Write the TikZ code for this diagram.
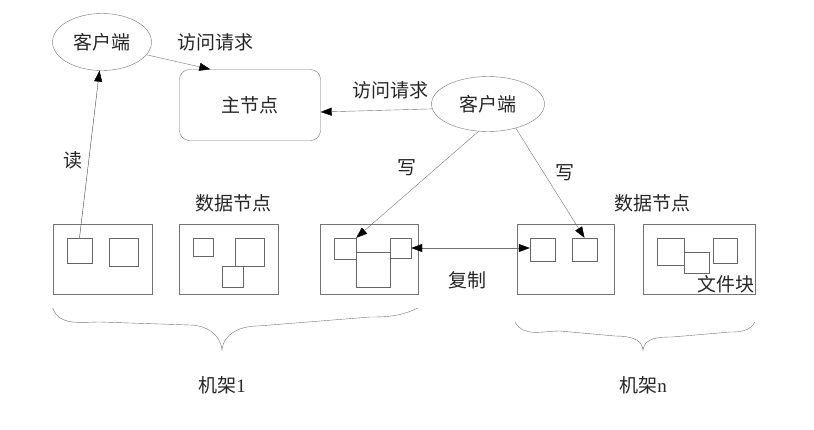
\documentclass[tikz,border=0pt]{standalone}
\usepackage{fontspec}
\newfontfamily\cjk{Noto Sans CJK SC}
\newfontfamily\lat{Liberation Serif}
\usetikzlibrary{shapes.geometric, arrows.meta, positioning}

\begin{document}
\begin{tikzpicture}[x=1pt, y=-1pt,
  client/.style={draw=black!55, ellipse, inner sep=0pt},
  dnbox/.style={draw=black!55, minimum height=70pt, inner sep=0pt},
  blk/.style={draw=black!60, inner sep=0pt},
  lbl/.style={font=\fontsize{19}{22}\selectfont\cjk, text=black!85},
  arrow/.style={draw=black!55, -{Triangle[length=11pt, width=8pt, color=black]}},
  font=\fontsize{19}{22}\selectfont\cjk
]
  \useasboundingbox (0,0) rectangle (814,429);

  % Clients and master
  \node[client, minimum width=99pt, minimum height=57pt, text=black!85] (cli1) at (102,42) {客户端};
  \node[draw=black!55, rounded corners=10pt, minimum width=141pt, minimum height=71pt, text=black!85] (master) at (250,105) {主节点};
  \node[client, minimum width=113pt, minimum height=55pt, text=black!85] (cli2) at (488,104) {客户端};

  % Data nodes, rack 1
  \node[dnbox, minimum width=99pt] (dn1) at (102.5,259) {};
  \node[dnbox, minimum width=99pt] (dn2) at (228.5,259) {};
  \node[dnbox, minimum width=98pt] (dn3) at (369,259) {};
  % Data nodes, rack n
  \node[dnbox, minimum width=97pt] (dn4) at (565.5,259) {};
  \node[dnbox, minimum width=112pt] (dn5) at (699,259) {};

  % File blocks
  \node[blk, minimum width=25pt, minimum height=25pt] (b11) at (79.5,250.5) {};
  \node[blk, minimum width=29pt, minimum height=28pt] (b12) at (123.5,252) {};
  \node[blk, minimum width=20pt, minimum height=18pt] (b21) at (203,247) {};
  \node[blk, minimum width=29pt, minimum height=28pt] (b22) at (249.5,252) {};
  \node[blk, minimum width=21pt, minimum height=21pt] (b23) at (232.5,276.5) {};
  \node[blk, minimum width=22pt, minimum height=21pt] (b31) at (345,248.5) {};
  \node[blk, minimum width=21pt, minimum height=20pt] (b32) at (400.5,248) {};
  \node[blk, minimum width=34pt, minimum height=35pt] (b33) at (373,269.5) {};
  \node[blk, minimum width=25pt, minimum height=23pt] (b41) at (542.5,249.5) {};
  \node[blk, minimum width=25pt, minimum height=23pt] (b42) at (584.5,249.5) {};
  \node[blk, minimum width=27pt, minimum height=27pt] (b51) at (670.5,251.5) {};
  \node[blk, minimum width=25pt, minimum height=21pt] (b52) at (696.5,262.5) {};
  \node[blk, minimum width=24pt, minimum height=25pt] (b53) at (725,250.5) {};
  \node[lbl, anchor=south east, inner sep=1pt] (fblk) at (dn5.south east) {文件块};

  % Labels
  \node[lbl] (req1) at (215,42) {访问请求};
  \node[lbl] (req2) at (390,90) {访问请求};
  \node[lbl] (rd) at (73,160) {读};
  \node[lbl] (wr1) at (407,168) {写};
  \node[lbl] (wr2) at (565,173) {写};
  \node[lbl] (dnl1) at (233,203) {数据节点};
  \node[lbl] (dnl2) at (652,203) {数据节点};
  \node[lbl] (cp) at (467,280) {复制};
  \node[lbl] (rack1) at (222,385) {机架{\lat 1}};
  \node[lbl] (rackn) at (643,385) {机架{\lat n}};

  % Arrows
  \draw[arrow] (cli1.-16) -- ([xshift=31pt]master.north west);
  \draw[arrow] (cli2.185) -- ([yshift=-7pt]master.east);
  \draw[arrow, draw=black!75] (b11.north) -- (cli1.-95);
  \draw[arrow] (cli2.-109) -- (b31.north east);
  \draw[arrow] (cli2.-41) -- (b42.north);
  \draw[arrow, {Triangle[length=11pt, width=8pt, color=black]}-{Triangle[length=11pt, width=8pt, color=black]}] (b32.east) -- (b32.east -| b41.west);

  % Braces
  \draw[black!55] (dn1.south west) ++(0,14) to[out=-70, in=180] (100,322) -- (190,325)
    to[out=0, in=95] (222,350) to[out=85, in=180] (258,326) -- (370,317) to[out=0, in=-155] (418,308);
  \draw[black!55] (515,322) to[out=-60, in=180] (560,331) -- (615,336)
    to[out=0, in=95] (643,350) to[out=85, in=180] (672,337) -- (730,332) to[out=0, in=-120] (755,322);
\end{tikzpicture}
\end{document}
